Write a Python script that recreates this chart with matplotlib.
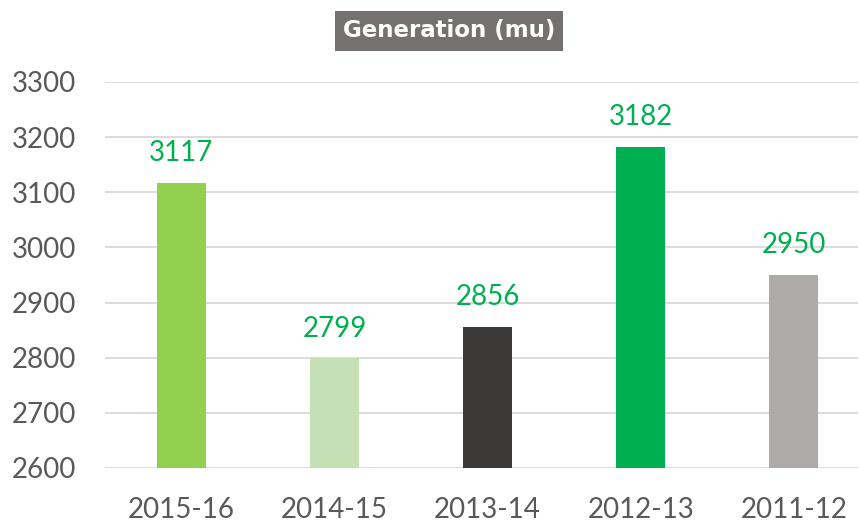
import matplotlib
matplotlib.use("Agg")
import matplotlib.pyplot as plt

categories = ["2015-16", "2014-15", "2013-14", "2012-13", "2011-12"]
values = [3117, 2799, 2856, 3182, 2950]
colors = ["#92D050", "#C5E0B4", "#3B3838", "#00B050", "#AEAAAA"]
yticks = [2600, 2700, 2800, 2900, 3000, 3100, 3200, 3300]
title = "Generation (mu)"

W, H = 859, 524
fig = plt.figure(figsize=(W / 100, H / 100), dpi=100)
ax = fig.add_axes([105 / W, 1 - 468 / H, (858 - 105) / W, (468 - 82) / H])

x = list(range(len(categories)))
ax.bar(x, [v - 2600 for v in values], bottom=2600, width=0.32, color=colors, zorder=3)
ax.set_xlim(-0.5, 4.42)
ax.set_ylim(2600, 3300)
ax.set_yticks(yticks)
ax.set_xticks(x)
ax.set_xticklabels(categories)
ax.grid(axis="y", color="#D9D9D9", linewidth=1.3, zorder=0)
for s in ax.spines.values():
    s.set_visible(False)
ax.tick_params(length=0, labelsize=20, labelcolor="#595959")
ax.tick_params(axis="x", pad=21)
ax.tick_params(axis="y", pad=21)
for lbl in ax.get_xticklabels() + ax.get_yticklabels():
    lbl.set_family("Lato")

for xi, v in zip(x, values):
    ax.annotate(str(v), (xi, v), xytext=(0, 12), textcoords="offset points",
                ha="center", va="bottom", fontsize=20, color="#00B050", family="Lato")

fig.text(449 / W, 1 - 31 / H, title, ha="center", va="center", fontsize=16.5,
         fontweight="bold", color="white", family="DejaVu Sans",
         bbox=dict(boxstyle="square,pad=0.35", facecolor="#767171", edgecolor="none"))

fig.savefig("out.png", dpi=100)
